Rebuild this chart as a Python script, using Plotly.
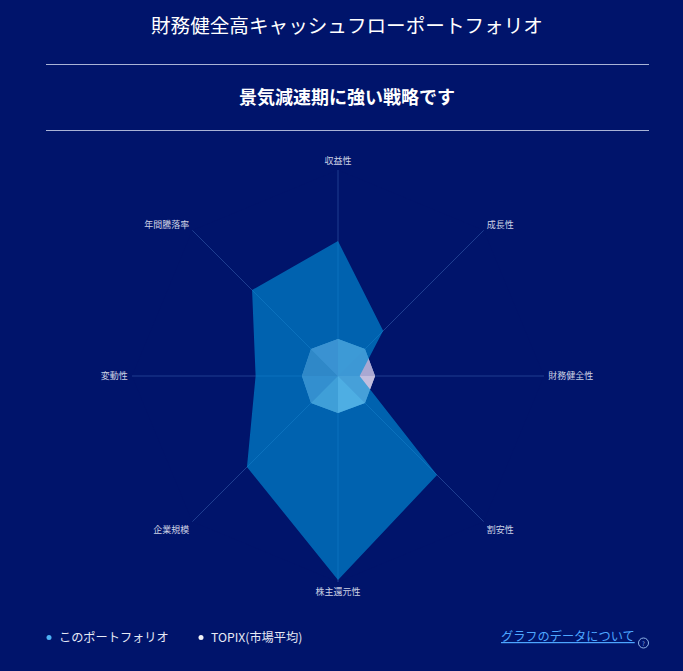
import plotly.graph_objects as go

W = 683
H = 671
FONT = 'Noto Sans CJK JP'
BG = '#00146b'

# axes run clockwise from the top
categories = ['収益性', '成長性', '財務健全性', '割安性', '株主還元性', '企業規模', '変動性', '年間騰落率']
portfolio = [65.5, 31, 10.5, 68, 99, 62.5, 40, 59]
topix = [18, 18.5, 18, 18.5, 18, 18.5, 17.5, 18.5]

# shading of each TOPIX facet, clockwise from 収益性
facet_colors = ['rgb(169,175,212)', 'rgb(170,168,210)', 'rgb(195,190,222)', 'rgb(217,230,250)',
                'rgb(175,189,218)', 'rgb(142,144,193)', 'rgb(131,125,174)', 'rgb(161,153,201)']

title_text = '財務健全高キャッシュフローポートフォリオ'
subtitle_text = '景気減速期に強い戦略です'
legend_names = ['このポートフォリオ', 'TOPIX(市場平均)']
link_text = 'グラフのデータについて'


def px(x):
    return x / W


def py(y):
    return 1 - y / H


def label(x, y, text, size, color='#e6e9f5', anchor='left'):
    return dict(x=px(x), y=py(y), xref='paper', yref='paper', text=text, showarrow=False,
                xanchor=anchor, yanchor='middle', font=dict(family=FONT, size=size, color=color))


fig = go.Figure()

# TOPIX goes underneath so the portfolio colour tints it
fig.add_trace(go.Scatterpolar(
    r=topix + topix[:1], theta=categories + categories[:1],
    mode='lines', fill='toself',
    line=dict(width=0, color='rgba(0,0,0,0)'),
    fillcolor=facet_colors[0],
    name=legend_names[1],
))
for i in range(len(categories)):
    j = (i + 1) % len(categories)
    fig.add_trace(go.Scatterpolar(
        r=[topix[i], topix[j], 0, topix[i]],
        theta=[categories[i], categories[j], categories[i], categories[i]],
        mode='lines', fill='toself',
        line=dict(width=0, color='rgba(0,0,0,0)'),
        fillcolor=facet_colors[i],
        name=legend_names[1],
    ))
fig.add_trace(go.Scatterpolar(
    r=portfolio + portfolio[:1], theta=categories + categories[:1],
    mode='lines', fill='toself',
    line=dict(width=0, color='rgba(0,0,0,0)'),
    fillcolor='rgba(0,142,215,0.64)',
    name=legend_names[0],
))

fig.update_layout(
    width=W, height=H,
    margin=dict(l=0, r=0, t=0, b=0),
    paper_bgcolor=BG,
    showlegend=False,
    font=dict(family=FONT),
    polar=dict(
        domain=dict(x=[px(132), px(544)], y=[py(582), py(170)]),
        bgcolor=BG,
        gridshape='linear',
        radialaxis=dict(visible=False, range=[0, 100]),
        angularaxis=dict(
            direction='clockwise', rotation=90,
            categoryorder='array', categoryarray=categories,
            showline=False, ticks='outside', ticklen=2, tickcolor='rgba(0,0,0,0)',
            showgrid=True, gridcolor='rgba(90,140,215,0.35)', gridwidth=1,
            layer='above traces',
            tickfont=dict(family=FONT, size=9, color='#ccd1e4'),
        ),
    ),
    shapes=[
        dict(type='line', xref='paper', yref='paper', x0=px(46), x1=px(649), y0=py(64.5), y1=py(64.5),
             line=dict(color='#a9b3d6', width=1)),
        dict(type='line', xref='paper', yref='paper', x0=px(46), x1=px(649), y0=py(130.5), y1=py(130.5),
             line=dict(color='#a9b3d6', width=1)),
        dict(type='circle', xref='paper', yref='paper', x0=px(46.5), x1=px(51.5), y0=py(640), y1=py(635),
             fillcolor='#4db2f5', line_width=0),
        dict(type='circle', xref='paper', yref='paper', x0=px(198.5), x1=px(203.5), y0=py(640), y1=py(635),
             fillcolor='#f2f2f7', line_width=0),
        dict(type='circle', xref='paper', yref='paper', x0=px(638.5), x1=px(648.5), y0=py(648), y1=py(638),
             fillcolor='rgba(0,0,0,0)', line=dict(color='#8fb4e8', width=1)),
    ],
    annotations=[
        label(347, 25, title_text, 19.6, '#ffffff', 'center'),
        label(347, 96, '<b>' + subtitle_text + '</b>', 18, '#ffffff', 'center'),
        label(57, 637, legend_names[0], 12.2),
        label(209, 637, legend_names[1], 12.2),
        label(499, 636, '<u>' + link_text + '</u>', 12.2, '#4da6ff'),
        label(643.5, 643, '?', 6, '#8fb4e8', 'center'),
    ],
)

fig.write_html('out.html', config=dict(displayModeBar=False),
               post_script="document.body.style.margin='0';document.body.style.background='#00146b';")
